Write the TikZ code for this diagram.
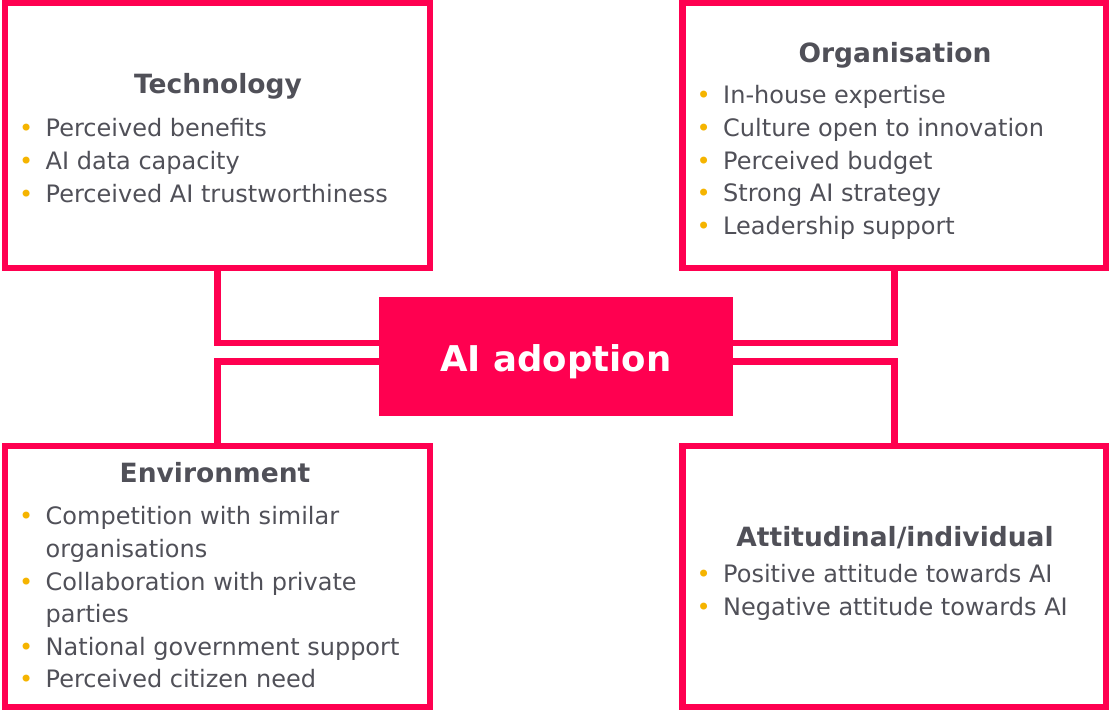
\documentclass[tikz,border=0pt]{standalone}
\usepackage{fontspec}
\setmainfont{DejaVu Sans}
\usetikzlibrary{positioning}

\definecolor{eupink}{HTML}{FF0050}
\definecolor{textgray}{HTML}{505058}
\definecolor{dotyellow}{HTML}{F5B400}

\newlength{\bulw}
\setlength{\bulw}{26.5pt}
\newcommand{\itm}{\makebox[\bulw][l]{\textcolor{dotyellow}{\textbullet}}}
\newcommand{\cnt}{\hspace*{\bulw}}

\tikzset{
  factor/.style={draw=eupink, line width=6.5pt, rectangle, minimum width=425pt, minimum height=265pt},
  factortitle/.style={anchor=base, inner sep=0pt, text=textgray, font=\fontsize{26.5}{30}\selectfont\bfseries},
  factoritems/.style={anchor=base west, inner sep=0pt, align=left, text=textgray, font=\fontsize{24}{32.6}\selectfont},
  link/.style={draw=eupink, line width=6.5pt}
}

\begin{document}
\begin{tikzpicture}[x=1pt, y=1pt]
  \useasboundingbox (0,0) rectangle (1109,711);
  % Four factor boxes
  \node[factor] (tech) at (217.5,575.5) {};
  \node[factor, minimum width=423.5pt] (org) at (894.25,575.5) {};
  \node[factor, minimum height=261pt] (env) at (217.5,134.5) {};
  \node[factor, minimum width=423.5pt, minimum height=261pt] (att) at (894.25,134.5) {};
  % Centre box: AI adoption
  \node[fill=eupink, rectangle, minimum width=354pt, minimum height=119pt, outer sep=0pt,
        text=white, font=\fontsize{35.5}{40}\selectfont\bfseries, text height=40pt, text depth=9pt] (ai) at (556,354.5) {AI adoption};
  % Links to the centre
  \draw[link] (tech.south) |- ([yshift=13.5pt]ai.west);
  \draw[link] (env.north) |- ([yshift=-5pt]ai.west);
  \draw[link] (org.south) |- ([yshift=13.5pt]ai.east);
  \draw[link] (att.north) |- ([yshift=-5pt]ai.east);
  % Technology (lists sit on their last line)
  \node[factortitle] (techtitle) at (218,617) {Technology};
  \node[factoritems] (techlist) at (19,508.8) {
    \itm Perceived benefits\\
    \itm AI data capacity\\
    \itm Perceived AI trustworthiness
  };
  % Organisation
  \node[factortitle] (orgtitle) at (895,648) {Organisation};
  \node[factoritems] (orglist) at (696.5,476.6) {
    \itm In-house expertise\\
    \itm Culture open to innovation\\
    \itm Perceived budget\\
    \itm Strong AI strategy\\
    \itm Leadership support
  };
  % Environment
  \node[factortitle] (envtitle) at (215,228) {Environment};
  \node[factoritems] (envlist) at (19,23) {
    \itm Competition with similar\\
    \cnt organisations\\
    \itm Collaboration with private\\
    \cnt parties\\
    \itm National government support\\
    \itm Perceived citizen need
  };
  % Attitudinal/individual
  \node[factortitle] (atttitle) at (895,164) {Attitudinal/individual};
  \node[factoritems] (attlist) at (696.5,95.4) {
    \itm Positive attitude towards AI\\
    \itm Negative attitude towards AI
  };
\end{tikzpicture}
\end{document}
